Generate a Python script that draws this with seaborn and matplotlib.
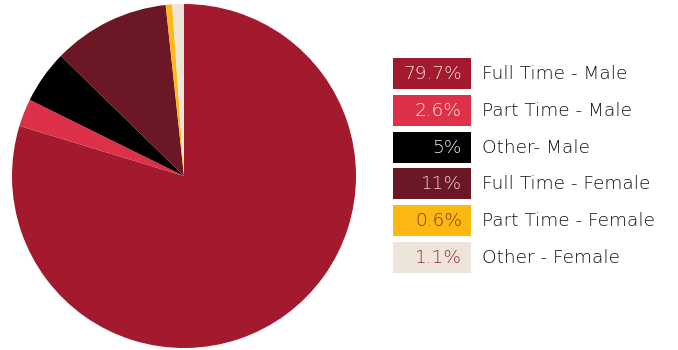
import matplotlib
matplotlib.use("Agg")
import matplotlib.pyplot as plt
from matplotlib.patches import Rectangle
import seaborn as sns

# Workforce split by employment type and gender (percent)
categories = ["Full Time - Male", "Part Time - Male", "Other- Male",
              "Full Time - Female", "Part Time - Female", "Other - Female"]
shares = [79.7, 2.6, 5, 11, 0.6, 1.1]
share_labels = ["79.7%", "2.6%", "5%", "11%", "0.6%", "1.1%"]

colors = ["#A3192E", "#DD3149", "#000000", "#6C1725", "#FDB913", "#EDE4DA"]
badge_text_colors = ["#F7E0E3", "#FDEBEE", "#F0F0F0", "#EDD6DA", "#7A3A0A", "#8E2F38"]

sns.set_theme(style="white")
plt.rcParams["font.family"] = ["DejaVu Sans"]

W, H = 678, 350
fig = plt.figure(figsize=(W / 100, H / 100), dpi=100)
fig.patch.set_facecolor("white")

# Pie: centre (184, 176) px, radius 172 px
cx, cy, r = 184, 176, 172
ax = fig.add_axes([(cx - r) / W, 1 - (cy + r) / H, 2 * r / W, 2 * r / H])
ax.pie(shares, colors=colors, startangle=90, counterclock=False,
       wedgeprops=dict(linewidth=0))
ax.set_xlim(-1, 1)
ax.set_ylim(-1, 1)
ax.set_aspect("equal")
ax.axis("off")

# Legend with coloured value badges, laid out in pixel coordinates
lax = fig.add_axes([0, 0, 1, 1])
lax.set_xlim(0, W)
lax.set_ylim(H, 0)
lax.axis("off")

x0, bw, bh = 393, 78, 31
y0, step = 58, 36.8
for i, (cat, lab, col, tcol) in enumerate(zip(categories, share_labels, colors, badge_text_colors)):
    y = y0 + i * step
    lax.add_patch(Rectangle((x0, y), bw, bh, facecolor=col, edgecolor="none"))
    lax.text(x0 + bw - 9, y + bh / 2 + 0.5, lab, ha="right", va="center",
             fontsize=13.3, color=tcol, fontweight="light")
    lax.text(482, y + bh / 2 + 0.5, cat, ha="left", va="center",
             fontsize=13.3, color="#111111", fontweight="light")

fig.savefig("out.png", dpi=100)
